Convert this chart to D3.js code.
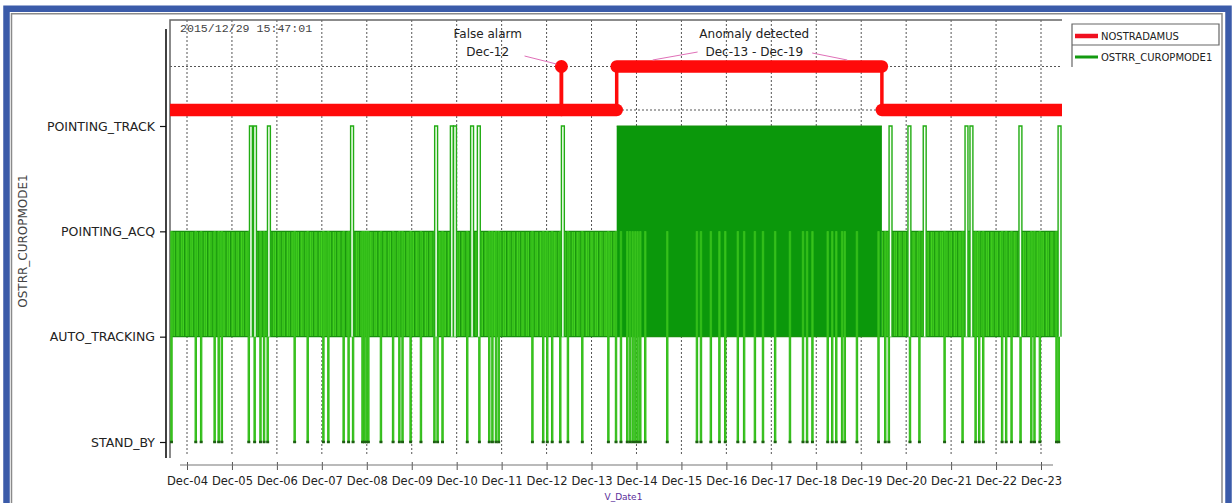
<!DOCTYPE html>
<html>
<head>
<meta charset="utf-8">
<script src="https://cdn.jsdelivr.net/npm/d3@7"></script>
<style>
  body { margin: 0; background: #fff; }
  svg { display: block; font-family: "DejaVu Sans", sans-serif; }
</style>
</head>
<body>
<div id="graph"></div>
<script>
// modes of OSTRR_CUROPMODE1, top to bottom
var categories = ['POINTING_TRACK', 'POINTING_ACQ', 'AUTO_TRACKING', 'STAND_BY'];

// x tick days (December 2015)
var dayTicks = [4, 5, 6, 7, 8, 9, 10, 11, 12, 13, 14, 15, 16, 17, 18, 19, 20, 21, 22, 23];

// NOSTRADAMUS step series (day of month, 0 = normal, 1 = alarm)
var nostraDays   = [3.62, 12.33, 12.33, 12.33, 12.33, 13.56, 13.56, 19.46, 19.46, 23.44];
var nostraValues = [0,    0,     1,     1,     0,     0,     1,     1,     0,     0];

// periods where the mode toggles fast between two levels
var bandStart = [3.64, 13.56, 19.46];
var bandEnd   = [13.56, 19.46, 23.40];
var bandHigh  = ['POINTING_ACQ', 'POINTING_TRACK', 'POINTING_ACQ'];
var bandLow   = ['AUTO_TRACKING', 'AUTO_TRACKING', 'AUTO_TRACKING'];

// short excursions up to POINTING_TRACK
var trackSpikes = [5.39, 5.48, 5.79, 7.64, 9.51, 9.86, 9.93, 10.31, 10.46, 12.33,
                   19.62, 20.04, 20.38, 21.31, 21.42, 22.51, 23.38];

// short drops to STAND_BY
var standbyDips = [3.64, 4.18, 4.30, 4.60, 4.69, 4.76, 5.36, 5.49, 5.62, 5.70, 5.78,
                   6.38, 6.67, 7.02, 7.13, 7.47, 7.58, 7.68, 7.89, 7.93, 7.98, 8.02,
                   8.30, 8.57, 8.71, 8.78, 8.96, 9.19, 9.49, 9.56, 9.67, 10.22, 10.49,
                   10.71, 10.78, 10.86, 10.92, 11.67, 11.91, 12.00, 12.11, 12.29, 12.46,
                   12.78, 13.36, 13.53, 13.64, 13.78, 13.84, 13.90, 13.96, 14.01, 14.07,
                   14.18, 14.67, 15.33, 15.42, 15.64, 15.83, 15.96, 16.24, 16.38, 16.62,
                   16.80, 17.07, 17.40, 17.69, 17.78, 17.90, 18.24, 18.34, 18.43, 18.56,
                   18.62, 18.89, 19.37, 19.52, 19.60, 20.07, 20.28, 20.84, 21.24, 21.53,
                   21.61, 21.70, 22.12, 22.21, 22.33, 22.53, 22.77, 22.84, 22.96, 23.33, 23.38];

var legendNames  = ['NOSTRADAMUS', 'OSTRR_CUROPMODE1'];
var legendColors = ['#f01020', '#139a10'];

var spikeDur = 0.065;
var dipDur = 0.03;

function dec(d) {
  return new Date(new Date(2015, 11, 1).getTime() + (d - 1) * 864e5);
}

var plotLeft = 170, plotRight = 1062, plotTop = 20, plotBottom = 458, axisY = 465;

var svg = d3.select('#graph').append('svg')
    .attr('width', 1232)
    .attr('height', 503);

var x = d3.scaleTime().domain([dec(4), dec(23)]).range([187, 1041]);
var y = d3.scalePoint().domain(categories).range([126, 442]);
var yRed = d3.scaleLinear().domain([0, 1]).range([110, 66.5]);

// defs: clip + texture for fast toggling
var defs = svg.append('defs');
defs.append('clipPath').attr('id', 'clip')
  .append('rect')
    .attr('x', plotLeft).attr('y', plotTop)
    .attr('width', plotRight - plotLeft).attr('height', plotBottom - plotTop + 2);

var pat = defs.append('pattern')
    .attr('id', 'toggle')
    .attr('patternUnits', 'userSpaceOnUse')
    .attr('width', 4.6).attr('height', 10);
pat.append('rect').attr('width', 4.6).attr('height', 10).attr('fill', '#42d11f');
pat.append('rect').attr('x', 0).attr('width', 1.4).attr('height', 10).attr('fill', '#18950d');
pat.append('rect').attr('x', 2.8).attr('width', 0.7).attr('height', 10).attr('fill', '#28ad15');

// outer frame
svg.append('rect')
    .attr('x', 6.5).attr('y', 8.75).attr('width', 1222).attr('height', 540)
    .attr('fill', 'none').attr('stroke', '#3b5ba9').attr('stroke-width', 6.5);
svg.append('rect')
    .attr('x', 11.5).attr('y', 13.75).attr('width', 1210.5).attr('height', 530)
    .attr('fill', 'none').attr('stroke', '#8a8a8a').attr('stroke-width', 1.5);

// grid
var grid = svg.append('g').attr('stroke', '#555').attr('stroke-width', 1).attr('stroke-dasharray', '2,2');
grid.selectAll('line.v').data(dayTicks).enter().append('line')
    .attr('x1', d => x(dec(d))).attr('x2', d => x(dec(d)))
    .attr('y1', plotTop).attr('y2', plotBottom - 2);
grid.selectAll('line.h').data([0, 1]).enter().append('line')
    .attr('x1', plotLeft).attr('x2', plotRight)
    .attr('y1', d => yRed(d)).attr('y2', d => yRed(d));

// plot frame (top + left)
svg.append('path')
    .attr('d', 'M' + plotLeft + ',' + plotBottom + 'V' + plotTop + 'H' + plotRight)
    .attr('fill', 'none').attr('stroke', '#666').attr('stroke-width', 1.5);

var data = svg.append('g').attr('clip-path', 'url(#clip)');

// green: toggling bands
var bands = bandStart.map(function(s, i) {
  return {s: dec(s), e: dec(bandEnd[i]), hi: bandHigh[i], lo: bandLow[i]};
});
data.selectAll('rect.band').data(bands).enter().append('rect')
    .attr('x', d => x(d.s))
    .attr('width', d => x(d.e) - x(d.s))
    .attr('y', d => y(d.hi))
    .attr('height', d => y(d.lo) - y(d.hi))
    .attr('fill', d => d.hi == 'POINTING_TRACK' ? '#0b980b' : 'url(#toggle)');
bands.forEach(function(b) {
  [b.hi, b.lo].forEach(function(level) {
    data.append('line')
        .attr('x1', x(b.s)).attr('x2', x(b.e))
        .attr('y1', y(level)).attr('y2', y(level))
        .attr('stroke', '#17900c').attr('stroke-width', 1.2);
  });
});

// green: drops to STAND_BY
data.selectAll('path.dip').data(standbyDips).enter().append('path')
    .attr('d', function(d) {
      var x0 = x(dec(d)), x1 = x(dec(d + dipDur));
      return 'M' + x0 + ',' + y('POINTING_ACQ') + 'V' + y('STAND_BY') + 'H' + x1 + 'V' + y('POINTING_ACQ');
    })
    .attr('fill', '#4fd82c').attr('stroke', '#30bb18').attr('stroke-width', 1.1);
data.selectAll('line.dipfoot').data(standbyDips).enter().append('line')
    .attr('x1', d => x(dec(d)) - 0.8).attr('x2', d => x(dec(d + dipDur)) + 0.8)
    .attr('y1', y('STAND_BY')).attr('y2', y('STAND_BY'))
    .attr('stroke', '#1d5f12').attr('stroke-width', 2.5);

// green: spikes up to POINTING_TRACK
data.selectAll('path.spike').data(trackSpikes).enter().append('path')
    .attr('d', function(d) {
      var x0 = x(dec(d)), x1 = x(dec(d + spikeDur));
      return 'M' + x0 + ',' + y('AUTO_TRACKING') + 'V' + y('POINTING_TRACK') + 'H' + x1 + 'V' + y('AUTO_TRACKING');
    })
    .attr('fill', '#f6fff2').attr('stroke', '#22ac14').attr('stroke-width', 1.4);

// red NOSTRADAMUS step line: thin risers, thick levels
var red = nostraDays.map((d, i) => ({t: dec(d), v: nostraValues[i]}));
var segs = d3.pairs(red);
data.selectAll('line.riser').data(segs.filter(p => p[0].v != p[1].v)).enter().append('line')
    .attr('x1', p => x(p[0].t)).attr('x2', p => x(p[1].t))
    .attr('y1', p => yRed(p[0].v)).attr('y2', p => yRed(p[1].v))
    .attr('stroke', '#ff0a0a').attr('stroke-width', 3.5);
data.selectAll('line.level').data(segs.filter(p => p[0].v == p[1].v && +p[0].t != +p[1].t)).enter().append('line')
    .attr('x1', p => x(p[0].t)).attr('x2', p => x(p[1].t))
    .attr('y1', p => yRed(p[0].v)).attr('y2', p => yRed(p[1].v))
    .attr('stroke', '#ff0a0a').attr('stroke-width', 12.5).attr('stroke-linecap', 'round');
data.selectAll('circle.blip').data(segs.filter(p => p[0].v == p[1].v && +p[0].t == +p[1].t)).enter().append('circle')
    .attr('cx', p => x(p[0].t)).attr('cy', p => yRed(p[0].v)).attr('r', 6.5)
    .attr('fill', '#ff0a0a');

// annotations
var notes = svg.append('g').attr('font-size', 12).attr('fill', '#222').attr('text-anchor', 'middle');
notes.append('text').attr('x', x(dec(10.69))).attr('y', 38).text('False alarm');
notes.append('text').attr('x', x(dec(10.69))).attr('y', 56).text('Dec-12');
notes.append('text').attr('x', x(dec(16.62))).attr('y', 38).text('Anomaly detected');
notes.append('text').attr('x', x(dec(16.62))).attr('y', 56).text('Dec-13 - Dec-19');
var leaders = [[11.51, 56, 12.22, 64], [15.36, 52, 14.36, 60], [17.91, 53, 18.69, 60]];
svg.selectAll('line.leader').data(leaders).enter().append('line')
    .attr('x1', d => x(dec(d[0]))).attr('y1', d => d[1])
    .attr('x2', d => x(dec(d[2]))).attr('y2', d => d[3])
    .attr('stroke', '#e070b8').attr('stroke-width', 1);

// timestamp
svg.append('text')
    .attr('x', 180).attr('y', 32)
    .attr('font-family', '"Liberation Mono", monospace').attr('font-size', 11.6)
    .attr('fill', '#444')
    .text('2015/12/29 15:47:01');

// y axis
var gy = svg.append('g').attr('transform', 'translate(166,0)')
    .call(d3.axisLeft(y).tickSize(6).tickPadding(5));
gy.select('.domain').remove();
gy.selectAll('.tick line').attr('stroke', '#111').attr('stroke-width', 1.2);
gy.selectAll('.tick text').attr('font-size', 12.5).attr('font-family', '"DejaVu Sans", sans-serif').attr('fill', '#222');
gy.append('line').attr('y1', 29).attr('y2', plotBottom).attr('stroke', '#111').attr('stroke-width', 1.6);

svg.append('text')
    .attr('transform', 'translate(27,241) rotate(-90)')
    .attr('text-anchor', 'middle').attr('font-size', 12).attr('fill', '#444')
    .text('OSTRR_CUROPMODE1');

// x axis
var gx = svg.append('g').attr('transform', 'translate(0,' + axisY + ')')
    .call(d3.axisBottom(x).tickValues(dayTicks.map(dec)).tickFormat(d3.timeFormat('Dec-%d')).tickSize(5).tickPadding(7));
gx.select('.domain').remove();
gx.selectAll('.tick line').attr('y1', -3).attr('stroke', '#555');
gx.selectAll('.tick text').attr('font-size', 11.5).attr('font-family', '"DejaVu Sans", sans-serif').attr('fill', '#222');
gx.append('line').attr('x1', 180).attr('x2', 1053).attr('stroke', '#777').attr('stroke-width', 1.2);

svg.append('text')
    .attr('x', x(dec(13.71))).attr('y', 500)
    .attr('text-anchor', 'middle').attr('font-size', 9).attr('fill', '#5a2d9a')
    .text('V_Date1');

// legend
var lg = svg.append('g');
lg.append('path')
    .attr('d', 'M1072,67V24H1219V45H1072')
    .attr('fill', 'none').attr('stroke', '#666').attr('stroke-width', 1.2);
var item = lg.selectAll('g.item').data(legendNames).enter().append('g')
    .attr('transform', (d, i) => 'translate(1075,' + (36 + i * 21) + ')');
item.append('line').attr('x1', 0).attr('x2', 23)
    .attr('stroke', (d, i) => legendColors[i]).attr('stroke-width', (d, i) => i == 0 ? 4.5 : 3);
item.append('text').attr('x', 26).attr('dy', '0.35em')
    .attr('font-size', 10).attr('fill', '#222')
    .text(d => d);
</script>
</body>
</html>
